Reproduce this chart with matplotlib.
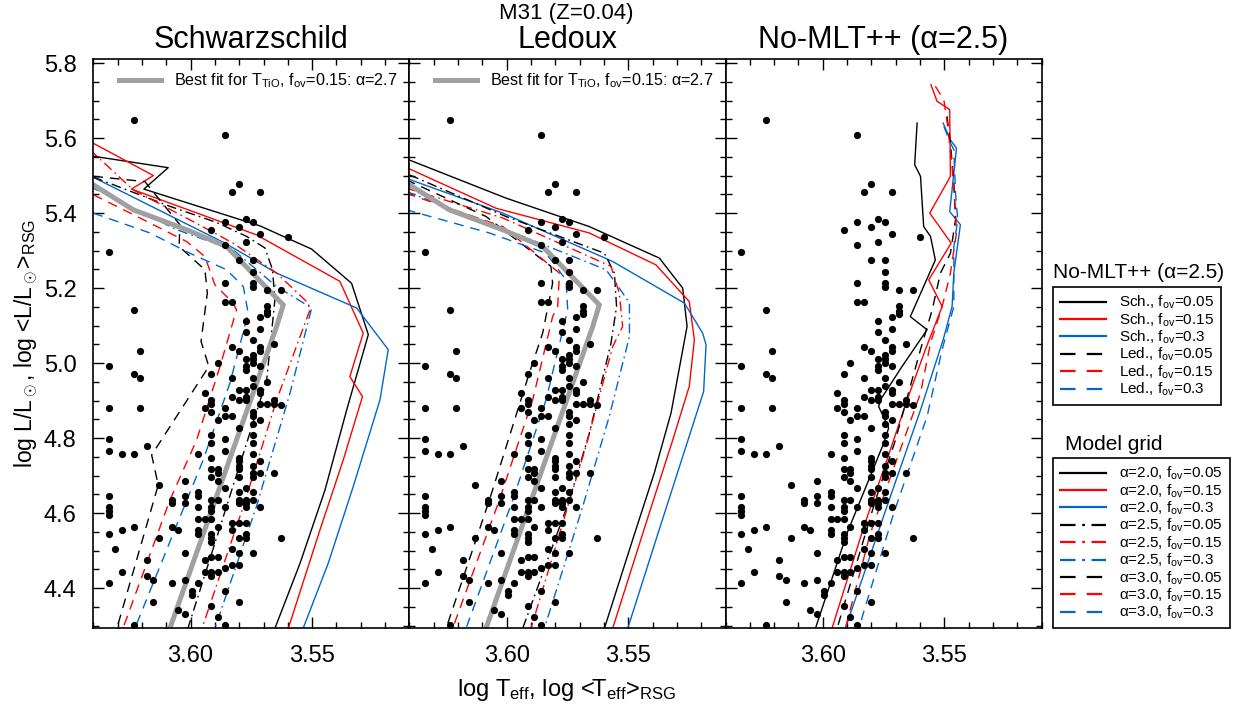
import numpy as np
import matplotlib.pyplot as plt
from matplotlib.lines import Line2D
from matplotlib.ticker import MultipleLocator, FormatStrFormatter

plt.rcParams['font.family'] = ['Liberation Sans', 'DejaVu Sans']
plt.rcParams['mathtext.fontset'] = 'custom'
plt.rcParams['mathtext.rm'] = 'Liberation Sans'
plt.rcParams['mathtext.it'] = 'Liberation Sans:italic'
plt.rcParams['mathtext.bf'] = 'Liberation Sans:bold'

BLACK, RED, BLUE, GRAY = 'black', '#ff0000', '#0066cc', '#a0a0a0'
SOLID = '-'
DASHDOT = (0, (7, 3, 1.2, 3))
DASHED = (0, (7, 5))

# observed RSGs: (log L, [log Teff ...]) rows
obs_rows = [
    (5.649, [3.6233]), (5.609, [3.5859]), (5.477, [3.5801]),
    (5.456, [3.5829, 3.5715]), (5.385, [3.5773]), (5.375, [3.5859, 3.5745]),
    (5.364, [3.5801]), (5.355, [3.5914]), (5.345, [3.5715]), (5.335, [3.5599]),
    (5.324, [3.5773]), (5.315, [3.5859]), (5.295, [3.6336]),
    (5.274, [3.5801, 3.5745]), (5.244, [3.5745]), (5.213, [3.5859, 3.5745]),
    (5.203, [3.5745]), (5.194, [3.5685, 3.5629]), (5.163, [3.5859, 3.5829]),
    (5.151, [3.5685]), (5.142, [3.6233]), (5.140, [3.5685]), (5.131, [3.5685]),
    (5.123, [3.5715]), (5.111, [3.5773]), (5.092, [3.5715]), (5.082, [3.5773]),
    (5.062, [3.5745]), (5.052, [3.5657]), (5.042, [3.5829, 3.5715]),
    (5.031, [3.6208, 3.5801, 3.5715]), (5.022, [3.5745]),
    (5.011, [3.5773, 3.5745]), (5.000, [3.5886, 3.5745]),
    (4.991, [3.6336, 3.5773, 3.5715]), (4.982, [3.5773]),
    (4.971, [3.6233, 3.5914]), (4.960, [3.6208, 3.5829, 3.5745]),
    (4.951, [3.5685]), (4.940, [3.5745]), (4.929, [3.5801, 3.5773, 3.5715]),
    (4.920, [3.5941, 3.5715]), (4.909, [3.5829, 3.5773]),
    (4.902, [3.5914, 3.5801, 3.5773, 3.5657]),
    (4.892, [3.5914, 3.5715, 3.5685, 3.5657]), (4.889, [3.5629]),
    (4.880, [3.6336, 3.6208, 3.5941, 3.5859]), (4.869, [3.5914, 3.5745]),
    (4.858, [3.5859, 3.5829, 3.5745]), (4.849, [3.5886, 3.5715]),
    (4.838, [3.5745]), (4.828, [3.5801]), (4.809, [3.5914, 3.5745]),
    (4.798, [3.6336, 3.5859]), (4.788, [3.5914, 3.5745]), (4.778, [3.6181]),
    (4.767, [3.6336, 3.5859]), (4.757, [3.6284, 3.6233, 3.5968, 3.5745]),
    (4.747, [3.5914, 3.5801]), (4.738, [3.5801, 3.5715]),
    (4.727, [3.5801, 3.5745]), (4.717, [3.5914, 3.5886, 3.5801]),
    (4.707, [3.5886, 3.5745, 3.5715, 3.5657]),
    (4.696, [3.5914, 3.5801, 3.5745]), (4.686, [3.6023, 3.5886]),
    (4.676, [3.6130]), (4.667, [3.5859, 3.5773]),
    (4.656, [3.5968, 3.5801, 3.5745]), (4.646, [3.6336, 3.6023, 3.5968]),
    (4.636, [3.6078, 3.5914, 3.5886, 3.5801, 3.5773, 3.5745]),
    (4.627, [3.6078, 3.6023, 3.5801, 3.5773]),
    (4.616, [3.6336, 3.5968, 3.5914, 3.5859, 3.5773, 3.5715]),
    (4.606, [3.6336, 3.5914]), (4.596, [3.6336]),
    (4.585, [3.5968, 3.5941, 3.5914]), (4.575, [3.5829, 3.5801, 3.5773]),
    (4.564, [3.6233, 3.6078, 3.5886]),
    (4.556, [3.6284, 3.6051, 3.5968, 3.5829]),
    (4.544, [3.6336, 3.5968, 3.5914, 3.5773]),
    (4.535, [3.6130, 3.5914, 3.5801, 3.5773, 3.5629]), (4.524, [3.5914]),
    (4.504, [3.6309, 3.5829]), (4.493, [3.6023, 3.5801, 3.5745]),
    (4.483, [3.5914, 3.5886]), (4.474, [3.6181, 3.5941]),
    (4.462, [3.5829, 3.5801]), (4.453, [3.5859]),
    (4.444, [3.6284, 3.5941, 3.5914, 3.5886]), (4.433, [3.6181, 3.5914]),
    (4.422, [3.6153, 3.6023]), (4.413, [3.6336, 3.6078, 3.5968]),
    (4.393, [3.5996, 3.5859]), (4.382, [3.5996]), (4.362, [3.6153, 3.5801]),
    (4.353, [3.5914]), (4.342, [3.6051]), (4.332, [3.6023]), (4.322, [3.5886]),
    (4.302, [3.6233, 3.5859]),
]
obs_logT = [t for L, ts in obs_rows for t in ts]
obs_logL = [L for L, ts in obs_rows for t in ts]

# best fit track (T_TiO, fov=0.15, alpha=2.7)
fit_logT = [3.6400, 3.6236, 3.6016, 3.5852, 3.5619, 3.5646, 3.6085]
fit_logL = [5.4755, 5.4088, 5.3555, 5.3110, 5.1554, 5.0977, 4.2931]

# Schwarzschild grid
sch_a20_f005_T = [3.6414, 3.6092, 3.6192, 3.5715, 3.5502, 3.5338, 3.5269, 3.5358, 3.5447, 3.5550, 3.5653]
sch_a20_f005_L = [5.553, 5.521, 5.464, 5.366, 5.304, 5.213, 5.076, 4.875, 4.662, 4.466, 4.293]
sch_a20_f015_T = [3.6414, 3.6153, 3.6243, 3.5729, 3.5386, 3.5290, 3.5345, 3.5293, 3.5372, 3.5468, 3.5598]
sch_a20_f015_L = [5.591, 5.500, 5.464, 5.342, 5.218, 5.080, 4.964, 4.911, 4.742, 4.555, 4.293]
sch_a20_f03_T = [3.6414, 3.5859, 3.5646, 3.5317, 3.5187, 3.5221, 3.5331, 3.5434, 3.5537]
sch_a20_f03_L = [5.500, 5.320, 5.240, 5.147, 5.036, 4.902, 4.671, 4.466, 4.293]
sch_a25_f005_T = [3.6400, 3.6085, 3.5893, 3.5770, 3.5694, 3.5663, 3.5653, 3.5687, 3.6011]
sch_a25_f005_L = [5.496, 5.418, 5.375, 5.338, 5.307, 5.249, 5.169, 4.955, 4.293]
sch_a25_f015_T = [3.6414, 3.6236, 3.6003, 3.5825, 3.5646, 3.5516, 3.5509, 3.5646, 3.5783, 3.5953]
sch_a25_f015_L = [5.569, 5.462, 5.382, 5.320, 5.240, 5.160, 5.142, 4.902, 4.618, 4.293]
sch_a25_f03_T = [3.6414, 3.6058, 3.5825, 3.5646, 3.5502, 3.5591, 3.5729, 3.5900]
sch_a25_f03_L = [5.471, 5.356, 5.302, 5.204, 5.147, 4.920, 4.618, 4.293]
sch_a30_f005_T = [3.6400, 3.6188, 3.6044, 3.6047, 3.5941, 3.5931, 3.5957, 3.5925, 3.6160, 3.6133, 3.6303]
sch_a30_f005_L = [5.498, 5.484, 5.369, 5.311, 5.249, 5.187, 5.058, 4.991, 4.755, 4.675, 4.293]
sch_a30_f015_T = [3.6400, 3.6236, 3.6016, 3.5941, 3.5900, 3.5825, 3.5811, 3.5879, 3.5975, 3.6085, 3.6278]
sch_a30_f015_L = [5.449, 5.396, 5.324, 5.284, 5.209, 5.160, 5.142, 4.991, 4.795, 4.635, 4.293]
sch_a30_f03_T = [3.6400, 3.6167, 3.6003, 3.5852, 3.5783, 3.5763, 3.5838, 3.5948, 3.6071, 3.6229]
sch_a30_f03_L = [5.400, 5.347, 5.293, 5.249, 5.204, 5.133, 4.947, 4.742, 4.546, 4.293]

# Ledoux grid
led_a20_f005_T = [3.6414, 3.6003, 3.5660, 3.5372, 3.5276, 3.5258, 3.5324, 3.5393, 3.5482, 3.5598]
led_a20_f005_L = [5.545, 5.440, 5.364, 5.280, 5.200, 5.098, 4.867, 4.707, 4.529, 4.293]
led_a20_f015_T = [3.6414, 3.6044, 3.5660, 3.5386, 3.5249, 3.5228, 3.5249, 3.5317, 3.5427, 3.5564]
led_a20_f015_L = [5.522, 5.413, 5.347, 5.262, 5.164, 5.062, 4.938, 4.795, 4.573, 4.293]
led_a20_f03_T = [3.6414, 3.6016, 3.5564, 3.5269, 3.5194, 3.5180, 3.5190, 3.5276, 3.5386, 3.5502]
led_a20_f03_L = [5.493, 5.400, 5.271, 5.160, 5.080, 5.049, 4.924, 4.751, 4.529, 4.293]
led_a25_f005_T = [3.6400, 3.6003, 3.5598, 3.5557, 3.5548, 3.5571, 3.5660, 3.5742, 3.5934]
led_a25_f005_L = [5.502, 5.391, 5.293, 5.240, 5.151, 5.053, 4.813, 4.635, 4.293]
led_a25_f015_T = [3.6414, 3.6016, 3.5571, 3.5537, 3.5523, 3.5564, 3.5674, 3.5900]
led_a25_f015_L = [5.467, 5.387, 5.258, 5.187, 5.098, 5.044, 4.778, 4.293]
led_a25_f03_T = [3.6414, 3.6003, 3.5591, 3.5523, 3.5495, 3.5495, 3.5578, 3.5687, 3.5845]
led_a25_f03_L = [5.458, 5.356, 5.249, 5.187, 5.160, 5.071, 4.858, 4.618, 4.293]
led_a30_f005_T = [3.6414, 3.6085, 3.5818, 3.5811, 3.5852, 3.5907, 3.6071, 3.6249]
led_a30_f005_L = [5.489, 5.391, 5.258, 5.213, 5.080, 4.973, 4.635, 4.293]
led_a30_f015_T = [3.6414, 3.6016, 3.5783, 3.5790, 3.5811, 3.5893, 3.6030, 3.6222]
led_a30_f015_L = [5.453, 5.364, 5.240, 5.151, 5.124, 4.902, 4.635, 4.293]
led_a30_f03_T = [3.6414, 3.6071, 3.5838, 3.5756, 3.5749, 3.5838, 3.5975, 3.6167]
led_a30_f03_L = [5.409, 5.347, 5.293, 5.222, 5.142, 4.902, 4.635, 4.293]

# No-MLT++ models (alpha=2.5)
nm_sch_f005_T = [3.5612, 3.5622, 3.5598, 3.5585, 3.5557, 3.5537, 3.5640, 3.5571, 3.5674, 3.5763, 3.5770, 3.5729, 3.5749, 3.5900, 3.6030]
nm_sch_f005_L = [5.640, 5.529, 5.498, 5.364, 5.338, 5.275, 5.124, 5.089, 4.991, 4.902, 4.884, 4.827, 4.787, 4.547, 4.293]
nm_sch_f015_T = [3.5555, 3.5530, 3.5478, 3.5475, 3.5560, 3.5472, 3.5564, 3.5509, 3.5578, 3.5653, 3.5736, 3.5831, 3.5962]
nm_sch_f015_L = [5.742, 5.698, 5.676, 5.498, 5.400, 5.320, 5.222, 5.151, 5.036, 4.902, 4.742, 4.564, 4.293]
nm_sch_f03_T = [3.5505, 3.5475, 3.5450, 3.5478, 3.5434, 3.5461, 3.5468, 3.5505, 3.5598, 3.5736, 3.5907]
nm_sch_f03_L = [5.640, 5.595, 5.573, 5.404, 5.369, 5.240, 5.151, 5.062, 4.875, 4.618, 4.293]
nm_led_f005_T = [3.5489, 3.5475, 3.5461, 3.5454, 3.5475, 3.5516, 3.5550, 3.5598, 3.5640, 3.5701, 3.5783, 3.5941]
nm_led_f005_L = [5.658, 5.587, 5.480, 5.382, 5.293, 5.240, 5.142, 5.036, 4.938, 4.795, 4.635, 4.293]
nm_led_f015_T = [3.5537, 3.5502, 3.5486, 3.5468, 3.5454, 3.5450, 3.5475, 3.5509, 3.5557, 3.5598, 3.5667, 3.5804, 3.5907]
nm_led_f015_L = [5.738, 5.702, 5.631, 5.524, 5.400, 5.347, 5.240, 5.151, 5.053, 4.920, 4.795, 4.547, 4.293]
nm_led_f03_T = [3.5502, 3.5475, 3.5461, 3.5454, 3.5445, 3.5461, 3.5461, 3.5509, 3.5571, 3.5708, 3.5852]
nm_led_f03_L = [5.631, 5.587, 5.569, 5.453, 5.382, 5.311, 5.151, 5.036, 4.858, 4.600, 4.293]

panel_titles = ['Schwarzschild', 'Ledoux', 'No-MLT++ (α=2.5)']

sch_tracks = [
    (sch_a20_f005_T, sch_a20_f005_L, BLACK, SOLID), (sch_a20_f015_T, sch_a20_f015_L, RED, SOLID),
    (sch_a20_f03_T, sch_a20_f03_L, BLUE, SOLID), (sch_a25_f005_T, sch_a25_f005_L, BLACK, DASHDOT),
    (sch_a25_f015_T, sch_a25_f015_L, RED, DASHDOT), (sch_a25_f03_T, sch_a25_f03_L, BLUE, DASHDOT),
    (sch_a30_f005_T, sch_a30_f005_L, BLACK, DASHED), (sch_a30_f015_T, sch_a30_f015_L, RED, DASHED),
    (sch_a30_f03_T, sch_a30_f03_L, BLUE, DASHED),
]
led_tracks = [
    (led_a20_f005_T, led_a20_f005_L, BLACK, SOLID), (led_a20_f015_T, led_a20_f015_L, RED, SOLID),
    (led_a20_f03_T, led_a20_f03_L, BLUE, SOLID), (led_a25_f005_T, led_a25_f005_L, BLACK, DASHDOT),
    (led_a25_f015_T, led_a25_f015_L, RED, DASHDOT), (led_a25_f03_T, led_a25_f03_L, BLUE, DASHDOT),
    (led_a30_f005_T, led_a30_f005_L, BLACK, DASHED), (led_a30_f015_T, led_a30_f015_L, RED, DASHED),
    (led_a30_f03_T, led_a30_f03_L, BLUE, DASHED),
]
nm_tracks = [
    (nm_sch_f005_T, nm_sch_f005_L, BLACK, SOLID), (nm_sch_f015_T, nm_sch_f015_L, RED, SOLID),
    (nm_sch_f03_T, nm_sch_f03_L, BLUE, SOLID), (nm_led_f005_T, nm_led_f005_L, BLACK, DASHED),
    (nm_led_f015_T, nm_led_f015_L, RED, DASHED), (nm_led_f03_T, nm_led_f03_L, BLUE, DASHED),
]

fig = plt.figure(figsize=(12.44, 7.11), dpi=100)
W = 0.2541
lefts = [0.0750, 0.3291, 0.5832]
axes = [fig.add_axes([l, 0.1163, W, 0.8003]) for l in lefts]

for i, (ax, tracks) in enumerate(zip(axes, [sch_tracks, led_tracks, nm_tracks])):
    ax.scatter(obs_logT, obs_logL, s=27, color='black', lw=0, zorder=3)
    for T, L, c, ls in tracks:
        ax.plot(T, L, color=c, ls=ls, lw=1.0, zorder=2)
    if i < 2:
        ax.plot(fit_logT, fit_logL, color=GRAY, lw=3.6, zorder=2.5, solid_joinstyle='miter')
        ax.legend([Line2D([], [], color=GRAY, lw=3.6)],
                  [r'Best fit for T$_{\rm TiO}$, f$_{\rm ov}$=0.15: α=2.7'],
                  loc='upper right', frameon=False, fontsize=11.6, handlelength=2.6,
                  borderaxespad=0.35, handletextpad=0.8)
    ax.set_xlim(3.64, 3.51)
    ax.set_ylim(4.293, 5.81)
    ax.xaxis.set_major_locator(MultipleLocator(0.05))
    ax.xaxis.set_minor_locator(MultipleLocator(0.01))
    ax.xaxis.set_major_formatter(FormatStrFormatter('%.2f'))
    ax.yaxis.set_major_locator(MultipleLocator(0.2))
    ax.yaxis.set_minor_locator(MultipleLocator(0.05))
    ax.yaxis.set_major_formatter(FormatStrFormatter('%.1f'))
    ax.tick_params(which='both', direction='in', top=True, right=True, labelsize=17, width=1.0)
    ax.tick_params(which='major', length=8, pad=12)
    ax.tick_params(which='minor', length=4)
    if i > 0:
        ax.tick_params(labelleft=False)
    for sp in ax.spines.values():
        sp.set_linewidth(1.2)
    ax.set_title(panel_titles[i], fontsize=22, pad=8)

axes[0].set_ylabel(r'log L/L$_\odot$, log <L/L$_\odot$>$_{\rm RSG}$', fontsize=16.5, labelpad=3)
fig.text(566 / 1244, 1 - 690 / 711, r'log T$_{\rm eff}$, log <T$_{\rm eff}$>$_{\rm RSG}$',
         ha='center', va='center', fontsize=17)
fig.text(566 / 1244, 1 - 14 / 711, 'M31 (Z=0.04)', ha='center', va='center', fontsize=16)

# right-hand legends
nm_handles = [Line2D([], [], color=c, ls=ls, lw=1.6) for _, _, c, ls in nm_tracks]
nm_labels = [r'Sch., f$_{\rm ov}$=0.05', r'Sch., f$_{\rm ov}$=0.15', r'Sch., f$_{\rm ov}$=0.3',
             r'Led., f$_{\rm ov}$=0.05', r'Led., f$_{\rm ov}$=0.15', r'Led., f$_{\rm ov}$=0.3']
grid_handles = [Line2D([], [], color=c, ls=ls, lw=1.6) for _, _, c, ls in sch_tracks]
grid_labels = [r'α=%s, f$_{\rm ov}$=%s' % (a, f)
               for a in ['2.0', '2.5', '3.0'] for f in ['0.05', '0.15', '0.3']]

for handles, labels, ytop, title, ytitle, xtitle in [
        (nm_handles, nm_labels, 287, 'No-MLT++ (α=2.5)', 273, 1053),
        (grid_handles, grid_labels, 458, 'Model grid', 445, 1065)]:
    leg = fig.legend(handles, labels, loc='upper left',
                     bbox_to_anchor=(1053 / 1244, 1 - ytop / 711),
                     fontsize=11, labelspacing=0.0, handlelength=3.0, handletextpad=0.9,
                     borderpad=0.45, borderaxespad=0, fancybox=False, edgecolor='black',
                     framealpha=1)
    leg.get_frame().set_linewidth(1.2)
    fig.text(xtitle / 1244, 1 - ytitle / 711, title, ha='left', va='center', fontsize=15)

fig.savefig('out.png', dpi=100)
